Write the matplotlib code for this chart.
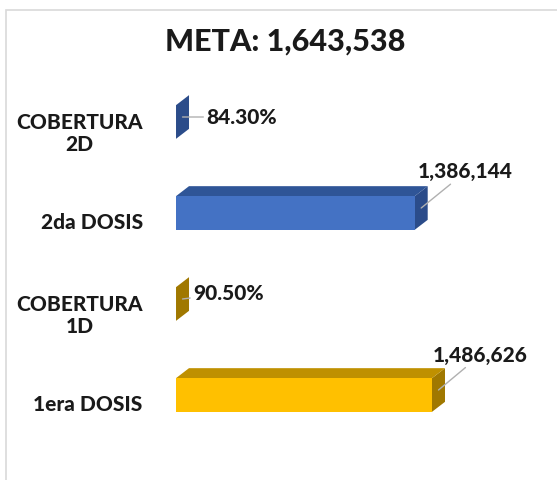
import matplotlib
matplotlib.use('Agg')
import matplotlib.pyplot as plt
from matplotlib.patches import Polygon, Rectangle
from matplotlib.transforms import ScaledTranslation

plt.rcParams['font.family'] = ['Lato', 'DejaVu Sans']

categories = ['1era DOSIS', 'COBERTURA\n1D', '2da DOSIS', 'COBERTURA\n2D']
values = [1486626, 90.50, 1386144, 84.30]
value_labels = ['1,486,626', '90.50%', '1,386,144', '84.30%']
title = 'META: 1,643,538'

front_colors = ['#FFC000', '#FFC000', '#4472C4', '#4472C4']
top_colors = ['#BF9000', '#BF9000', '#2F5597', '#2F5597']
side_colors = ['#A07800', '#A07800', '#2B4C8A', '#2B4C8A']
# label offsets in points (dx, dy) and alignment
label_offsets = [(30, 25), (7.5, 4.3), (32, 26), (17, 0)]
label_ha = ['center', 'left', 'center', 'left']

fig = plt.figure(figsize=(5.57, 4.80), dpi=100)
W, H = 557, 480

# light frame of the chart area
fig.patches.append(Rectangle((6 / W, -0.5), 2, 1.5 - 10 / H, transform=fig.transFigure,
                             fill=False, edgecolor='#D9D9D9', linewidth=1.2))

ax = fig.add_axes([176 / W, 1 - 467.8 / H, 381 / W, (467.8 - 67.4) / H])
xmax = 381 / 256 * 1486626
ax.set_xlim(0, xmax)
ax.set_ylim(-0.8, 3.6)
for s in ax.spines.values():
    s.set_visible(False)
ax.set_xticks([])

bar_h = 0.37
# depth of the 3d effect, in data units
ax_w_px = 381
ax_h_px = 467.8 - 67.4
dx = 13 * xmax / ax_w_px
dy = 10 * 4.4 / ax_h_px

ypos = list(range(len(categories)))
for y, v, fc, tc, sc in zip(ypos, values, front_colors, top_colors, side_colors):
    y0, y1 = y - bar_h / 2, y + bar_h / 2
    side = Polygon([(v, y0), (v + dx, y0 + dy), (v + dx, y1 + dy), (v, y1)],
                   closed=True, facecolor=sc, edgecolor='none')
    top = Polygon([(0, y1), (dx, y1 + dy), (v + dx, y1 + dy), (v, y1)],
                  closed=True, facecolor=tc, edgecolor='none')
    ax.add_patch(side)
    ax.add_patch(top)
    ax.barh(y, v, height=bar_h, color=fc, edgecolor='none')

for y, v, lab, off, ha in zip(ypos, values, value_labels, label_offsets, label_ha):
    ax.annotate(lab, xy=(v + dx / 2, y + dy / 2), xytext=off, textcoords='offset points',
                ha=ha, va='center',
                fontsize=15, fontweight='black', color='#1A1A1A',
                arrowprops=dict(arrowstyle='-', color='#B0B0B0', lw=1.0,
                                shrinkA=0, shrinkB=0))

ax.set_yticks(ypos)
ax.set_yticklabels(categories, fontsize=15, fontweight='black', color='#1A1A1A',
                   multialignment='center')
ax.tick_params(axis='y', length=0, pad=24)
for t in ax.get_yticklabels():
    t.set_transform(t.get_transform() + ScaledTranslation(0, -6 / 72, fig.dpi_scale_trans))

fig.text(285 / W, 1 - 42 / H, title, ha='center', va='center',
         fontsize=22, fontweight='black', color='#1A1A1A')

fig.savefig('out.png', dpi=100)
